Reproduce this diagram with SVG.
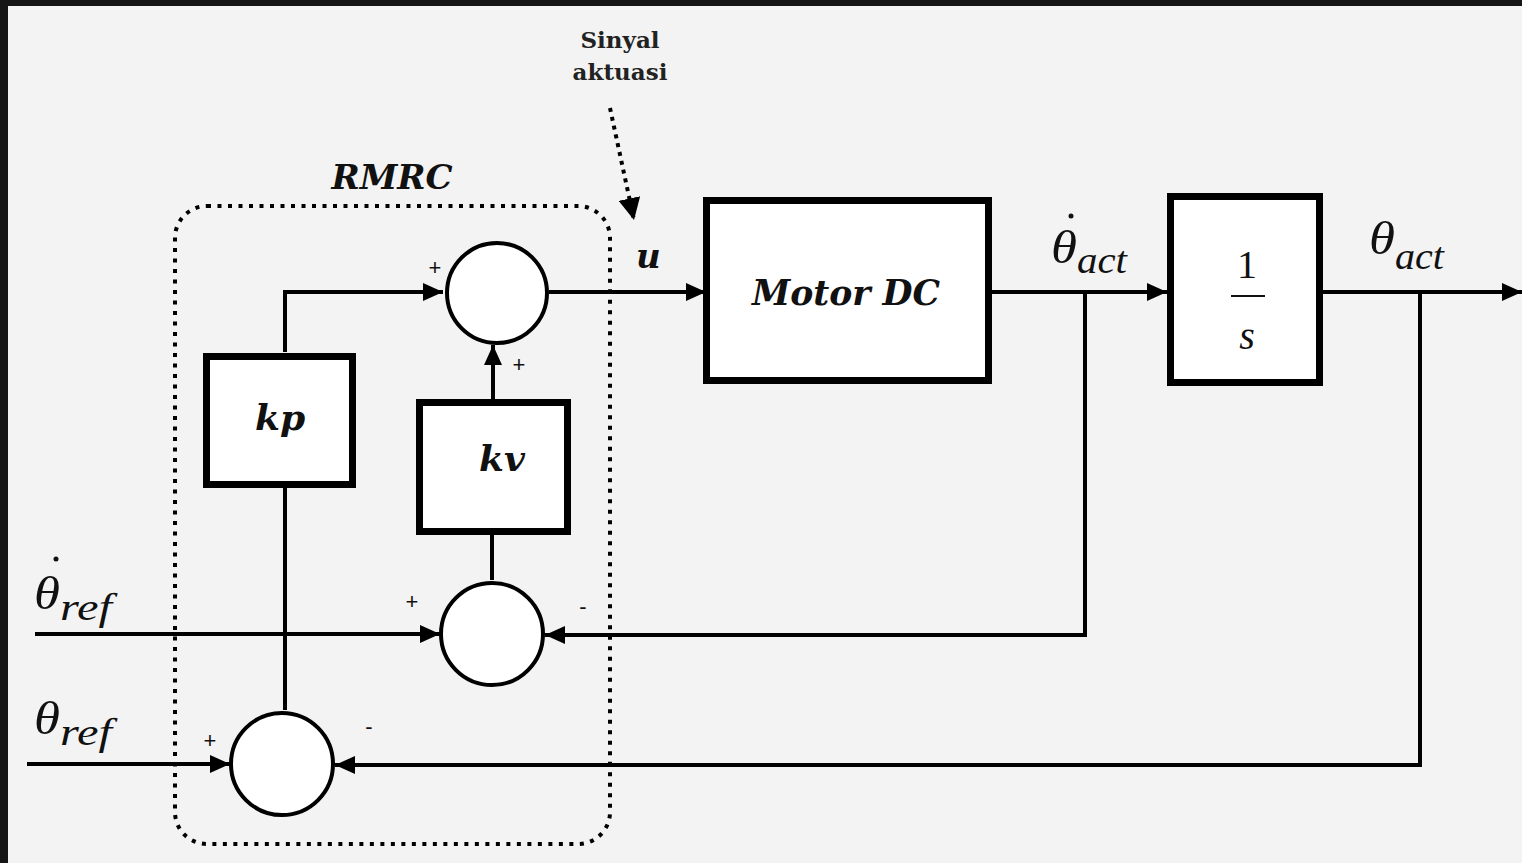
<svg xmlns="http://www.w3.org/2000/svg" width="1522" height="863" viewBox="0 0 1522 863">
<defs>
<marker id="ah" markerUnits="userSpaceOnUse" markerWidth="20" markerHeight="18" viewBox="0 0 20 18" refX="20" refY="9" orient="auto">
<path d="M0,0 L20,9 L0,18 z" fill="#000"/>
</marker>
<marker id="ahd" markerUnits="userSpaceOnUse" markerWidth="22" markerHeight="22" viewBox="0 0 22 22" refX="22" refY="11" orient="auto">
<path d="M0,0 L22,11 L0,22 z" fill="#000"/>
</marker>
</defs>
<style>
.blk{fill:#fff;stroke:#000;stroke-width:7}
.sum{fill:#fff;stroke:#000;stroke-width:4}
.ln{fill:none;stroke:#000;stroke-width:4}
.bi{font-family:"DejaVu Serif","Liberation Serif",serif;font-weight:bold;font-style:italic;fill:#111}
.th{font-family:"Liberation Serif",serif;font-style:italic;fill:#111}
.sg{font-family:"Liberation Sans",sans-serif;font-size:22px;fill:#111}
</style>
<rect x="0" y="0" width="1522" height="863" fill="#151515"/>
<rect x="8" y="6" width="1514" height="857" fill="#f3f3f3"/>

<g id="rmrc">
<rect x="175" y="206" width="435" height="638" rx="32" ry="32" fill="none" stroke="#000" stroke-width="4" stroke-dasharray="4 6.5"/>
<text class="bi" x="392" y="189" font-size="34" text-anchor="middle">RMRC</text>
</g>

<g id="connectors">
<path class="ln" d="M285,352 V292 H443" marker-end="url(#ah)"/>
<path class="ln" d="M493,399 V345" marker-end="url(#ah)"/>
<path class="ln" d="M549,292 H706" marker-end="url(#ah)"/>
<path class="ln" d="M992,292 H1167" marker-end="url(#ah)"/>
<path class="ln" d="M1323,292 H1522" marker-end="url(#ah)"/>
<path class="ln" d="M1085,292 V635 H545" marker-end="url(#ah)"/>
<path class="ln" d="M1420,292 V765 H335" marker-end="url(#ah)"/>
<path class="ln" d="M35,634 H440" marker-end="url(#ah)"/>
<path class="ln" d="M27,764 H230" marker-end="url(#ah)"/>
<path class="ln" d="M492,580 V535"/>
<path class="ln" d="M285,710 V488"/>
<path d="M610,108 L634,220" fill="none" stroke="#000" stroke-width="4" stroke-dasharray="4 5" marker-end="url(#ahd)"/>
</g>

<g id="sum1"><circle class="sum" cx="497" cy="293" r="50"/></g>
<g id="sum2"><circle class="sum" cx="492" cy="634" r="51"/></g>
<g id="sum3"><circle class="sum" cx="282" cy="764" r="51"/></g>

<g id="kp">
<rect class="blk" x="206.5" y="356.5" width="146" height="128"/>
<text class="bi" x="280" y="430" font-size="36" text-anchor="middle">kp</text>
</g>
<g id="kv">
<rect class="blk" x="419.5" y="402.5" width="148" height="129"/>
<text class="bi" x="502" y="471" font-size="36" text-anchor="middle">kv</text>
</g>
<g id="motor">
<rect class="blk" x="706.5" y="200.5" width="282" height="180"/>
<text class="bi" x="846" y="305" font-size="36" text-anchor="middle" textLength="188" lengthAdjust="spacingAndGlyphs">Motor DC</text>
</g>
<g id="integrator">
<rect class="blk" x="1170.5" y="196.5" width="149" height="186"/>
<text x="1247" y="278" font-family="Liberation Serif,serif" font-size="40" text-anchor="middle" fill="#111">1</text>
<line x1="1231" y1="296" x2="1265" y2="296" stroke="#111" stroke-width="2"/>
<text class="th" x="1247" y="349" font-size="40" text-anchor="middle">s</text>
</g>

<g id="labels">
<text class="bi" x="636" y="268" font-size="34">u</text>
<text x="620" y="48" font-family="DejaVu Serif,serif" font-weight="bold" font-size="23" text-anchor="middle" fill="#222">Sinyal</text>
<text x="620" y="80" font-family="DejaVu Serif,serif" font-weight="bold" font-size="23" text-anchor="middle" fill="#222">aktuasi</text>

<text class="th" x="1051" y="263" font-size="46" textLength="26" lengthAdjust="spacingAndGlyphs">θ</text>
<circle cx="1071" cy="216" r="2.5" fill="#111"/>
<text class="th" x="1077" y="273" font-size="38" textLength="50" lengthAdjust="spacingAndGlyphs">act</text>

<text class="th" x="1369" y="254" font-size="46" textLength="26" lengthAdjust="spacingAndGlyphs">θ</text>
<text class="th" x="1395" y="269" font-size="38" textLength="49" lengthAdjust="spacingAndGlyphs">act</text>

<text class="th" x="34" y="609" font-size="46" textLength="26" lengthAdjust="spacingAndGlyphs">θ</text>
<circle cx="56" cy="559" r="2.5" fill="#111"/>
<text class="th" x="60" y="620" font-size="38" textLength="52" lengthAdjust="spacingAndGlyphs">ref</text>

<text class="th" x="34" y="734" font-size="46" textLength="26" lengthAdjust="spacingAndGlyphs">θ</text>
<text class="th" x="60" y="745" font-size="38" textLength="52" lengthAdjust="spacingAndGlyphs">ref</text>

<text class="sg" x="435" y="275" text-anchor="middle">+</text>
<text class="sg" x="519" y="372" text-anchor="middle">+</text>
<text class="sg" x="412" y="609" text-anchor="middle">+</text>
<text class="sg" x="583" y="614" text-anchor="middle">-</text>
<text class="sg" x="210" y="748" text-anchor="middle">+</text>
<text class="sg" x="369" y="734" text-anchor="middle">-</text>
</g>
</svg>
